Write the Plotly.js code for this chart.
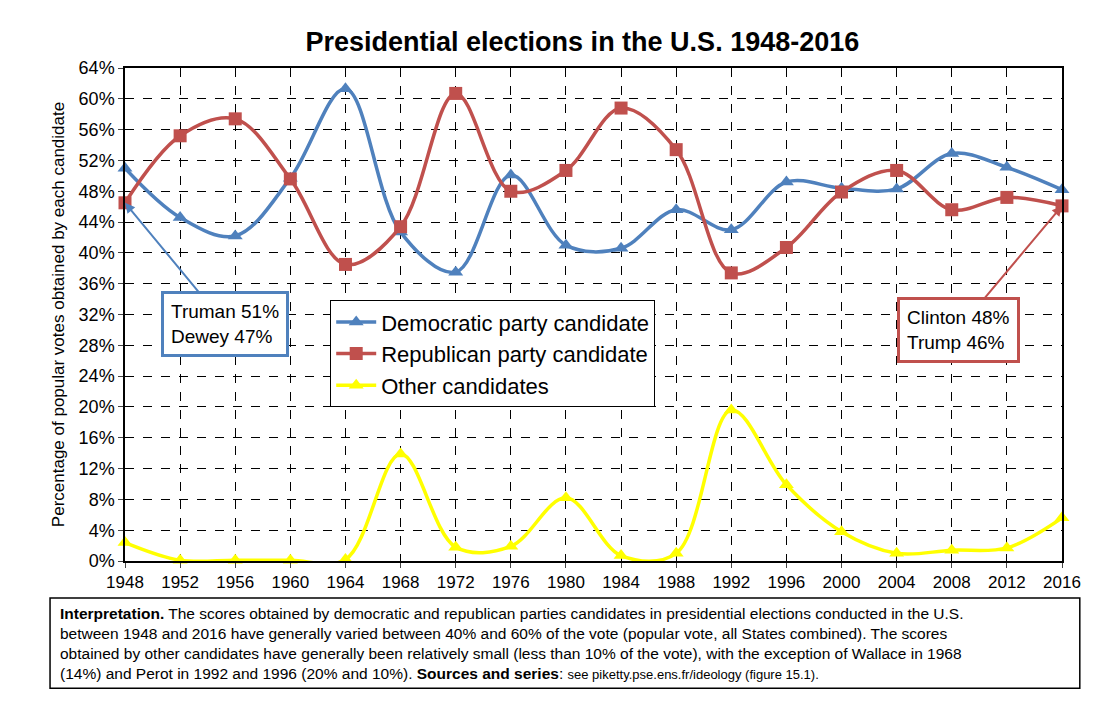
<!DOCTYPE html>
<html>
<head>
<meta charset="utf-8">
<script src="https://cdn.plot.ly/plotly-3.0.1.min.js"></script>
<style>body{margin:0;background:#fff}#chart{width:1120px;height:706px}</style>
</head>
<body>
<div id="chart"></div>
<script>
const years = [1948,1952,1956,1960,1964,1968,1972,1976,1980,1984,1988,1992,1996,2000,2004,2008,2012,2016];
const democrat = [51.0,44.6,42.2,49.7,61.3,42.7,37.5,50.1,41.0,40.6,45.6,43.0,49.2,48.4,48.3,52.9,51.1,48.2];
const republican = [46.5,55.2,57.4,49.6,38.5,43.4,60.7,48.0,50.7,58.8,53.4,37.4,40.7,47.9,50.7,45.6,47.2,46.1];
const others = [2.4,0.1,0.1,0.1,0.2,13.9,1.8,1.9,8.2,0.7,1.0,19.6,9.9,3.8,1.0,1.4,1.7,5.6];

const font = "Liberation Sans, Arial, sans-serif";

function series(name, y, color, symbol) {
  return {
    x: years, y: y, name: name, type: "scatter", mode: "lines+markers",
    line: {color: color, width: 3.5, shape: "spline", smoothing: 1},
    marker: {color: color, symbol: symbol, size: 13},
    cliponaxis: false
  };
}

const data = [
  series("Democratic party candidate", democrat, "#4f81bd", "triangle-up"),
  series("Republican party candidate", republican, "#c0504d", "square"),
  series("Other candidates", others, "#ffff00", "triangle-up")
];

const note = "<b>Interpretation.</b> The scores obtained by democratic and republican parties candidates in presidential elections conducted in the U.S.<br>" +
  "between 1948 and 2016 have generally varied between 40% and 60% of the vote (popular vote, all States combined). The scores<br>" +
  "obtained by other candidates have generally been relatively small (less than 10% of the vote), with the exception of Wallace in 1968<br>" +
  "(14%) and Perot in 1992 and 1996 (20% and 10%). <b>Sources and series</b>: <span style='font-size:13px'>see piketty.pse.ens.fr/ideology (figure 15.1).</span>";

const layout = {
  width: 1120, height: 706,
  margin: {l: 125, r: 58, t: 68, b: 145},
  paper_bgcolor: "#fff", plot_bgcolor: "#fff",
  font: {family: font, color: "#000", size: 17},
  title: {text: "<b>Presidential elections in the U.S. 1948-2016</b>", font: {size: 27}, x: 0.52, y: 0.955},
  xaxis: {
    range: [1948, 2016], tickvals: years, showgrid: true, gridcolor: "#000", griddash: "dash", gridwidth: 1,
    showline: true, linecolor: "#000", mirror: true, linewidth: 1.5, ticks: "outside", ticklen: 5,
    tickfont: {size: 17}, zeroline: false
  },
  yaxis: {
    range: [0, 64], dtick: 4, ticksuffix: "%", showgrid: true, gridcolor: "#000", griddash: "dash", gridwidth: 1,
    showline: true, linecolor: "#000", mirror: true, linewidth: 1.5, ticks: "outside", ticklen: 5,
    tickfont: {size: 18}, zeroline: false,
    title: {text: "Percentage of popular votes obtained by each candidate", font: {size: 17}, standoff: 10}
  },
  legend: {
    x: 0.219, y: 0.529, xanchor: "left", yanchor: "top",
    bgcolor: "#fff", bordercolor: "#000", borderwidth: 1,
    font: {size: 22}, tracegroupgap: 8, itemwidth: 40
  },
  shapes: [
    {type: "rect", xref: "paper", yref: "paper", x0: -0.08, x1: 1.019, y0: -0.258, y1: -0.075,
     line: {color: "#000", width: 1.5}, fillcolor: "rgba(0,0,0,0)"}
  ],
  annotations: [
    {x: 1948, y: 46.5, ax: 100, ay: 121, text: "Truman 51%<br>Dewey 47%", align: "left",
     showarrow: true, arrowcolor: "#4f81bd", arrowwidth: 2, arrowhead: 2,
     bordercolor: "#4f81bd", borderwidth: 3, borderpad: 7, bgcolor: "#fff", font: {size: 19}},
    {x: 2016, y: 46.1, ax: -104, ay: 124, text: "Clinton 48%<br>Trump 46%", align: "left",
     showarrow: true, arrowcolor: "#c0504d", arrowwidth: 2, arrowhead: 2,
     bordercolor: "#c0504d", borderwidth: 3, borderpad: 7, bgcolor: "#fff", font: {size: 19}},
    {xref: "paper", yref: "paper", x: -0.072, y: -0.085, xanchor: "left", yanchor: "top",
     text: note, align: "left", showarrow: false, font: {size: 15.5}}
  ]
};

Plotly.newPlot("chart", data, layout, {displayModeBar: false});
</script>
</body>
</html>
